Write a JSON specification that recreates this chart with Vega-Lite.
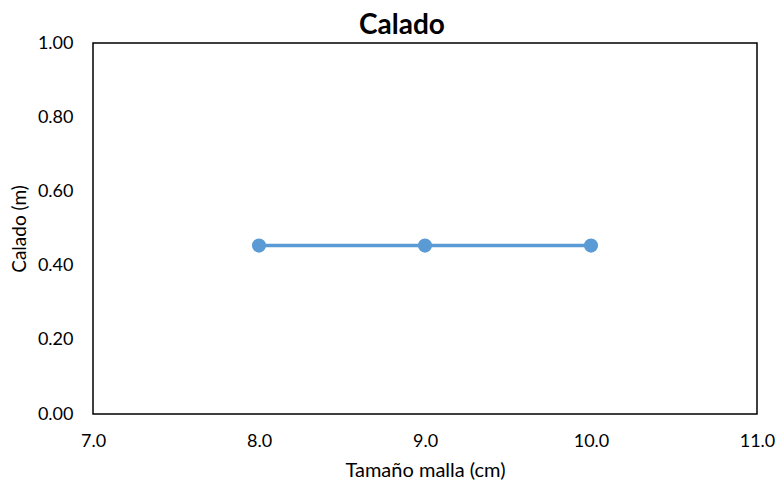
{
  "$schema": "https://vega.github.io/schema/vega-lite/v6.json",
  "width": 664,
  "height": 371,
  "autosize": {"type": "none"},
  "padding": {"left": 93, "top": 43, "right": 21, "bottom": 70},
  "background": "white",
  "config": {
    "font": "Lato",
    "view": {"stroke": "black", "strokeWidth": 1.5}
  },
  "title": {
    "text": "Calado",
    "fontSize": 28,
    "fontWeight": "bold",
    "font": "Lato",
    "color": "black",
    "anchor": "middle",
    "frame": "group",
    "dx": -23,
    "offset": -6
  },
  "data": {
    "values": [
      {"malla": 8.0, "calado": 0.454},
      {"malla": 9.0, "calado": 0.454},
      {"malla": 10.0, "calado": 0.454}
    ]
  },
  "encoding": {
    "x": {
      "field": "malla",
      "type": "quantitative",
      "title": "Tamaño malla (cm)",
      "scale": {"domain": [7, 11], "nice": false, "zero": false},
      "axis": {
        "values": [7, 8, 9, 10, 11],
        "format": ".1f",
        "grid": false,
        "ticks": false,
        "domain": false,
        "labelFlush": false,
        "labelFontSize": 18,
        "labelColor": "black",
        "labelPadding": 18,
        "titleFontSize": 20,
        "titleFontWeight": "normal",
        "titleColor": "black",
        "titlePadding": 10
      }
    },
    "y": {
      "field": "calado",
      "type": "quantitative",
      "title": "Calado (m)",
      "scale": {"domain": [0, 1], "nice": false},
      "axis": {
        "values": [0, 0.2, 0.4, 0.6, 0.8, 1.0],
        "format": ".2f",
        "grid": false,
        "ticks": false,
        "domain": false,
        "labelFontSize": 18,
        "labelColor": "black",
        "labelPadding": 20,
        "titleFontSize": 19,
        "titleFontWeight": "normal",
        "titleColor": "black",
        "titlePadding": 8
      }
    }
  },
  "layer": [
    {"mark": {"type": "line", "color": "#5B9BD5", "strokeWidth": 3.5}},
    {"mark": {"type": "point", "filled": true, "opacity": 1, "color": "#5B9BD5", "size": 200}}
  ]
}
